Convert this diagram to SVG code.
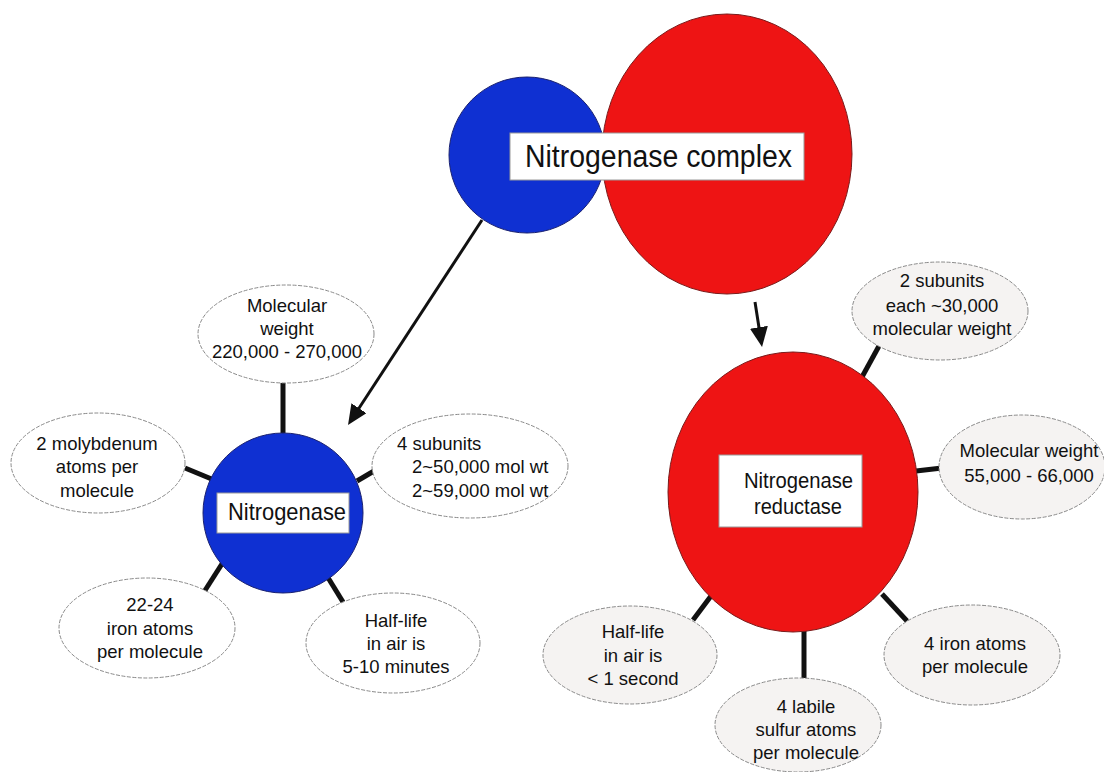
<svg xmlns="http://www.w3.org/2000/svg" width="1104" height="772" viewBox="0 0 1104 772">
<style>
.blue{fill:#0f30d2;stroke:#1a2170;stroke-width:1}
.red{fill:#ee1414;stroke:#7a1a1a;stroke-width:1}
.box{fill:#fff;stroke:#999;stroke-width:1}
.bub{fill:#fff;stroke:#8a8a8a;stroke-width:1;stroke-dasharray:4 1.5}
.bubg{fill:#f5f3f2;stroke:#8a8a8a;stroke-width:1;stroke-dasharray:4 1.5}
text{font-family:"Liberation Sans",Arial,sans-serif;fill:#111}
.t{font-size:18.5px;text-anchor:middle}
.ts{font-size:18.5px;text-anchor:start}
.conn{stroke:#111;stroke-width:5;stroke-linecap:butt}
.arr{stroke:#111;stroke-width:3;fill:none}
</style>
<defs>
<marker id="ah" viewBox="0 0 20 18" refX="12" refY="9" markerWidth="20" markerHeight="18" markerUnits="userSpaceOnUse" orient="auto">
<path d="M0,0 L20,9 L0,18 z" fill="#111"/>
</marker>
</defs>
<rect width="1104" height="772" fill="#fff"/>

<g id="complex">
<circle class="blue" cx="527" cy="155" r="78"/>
<ellipse class="red" cx="727" cy="154" rx="125" ry="140"/>
<rect class="box" x="510" y="133" width="294" height="47"/>
<text x="525" y="167" font-size="31" textLength="267" lengthAdjust="spacingAndGlyphs">Nitrogenase complex</text>
</g>

<g id="connectors">
<line class="arr" x1="482" y1="220" x2="352.4" y2="418.3" marker-end="url(#ah)"/>
<line class="arr" x1="755" y1="302" x2="760.8" y2="339.1" stroke-width="4" marker-end="url(#ah)"/>
<line class="conn" x1="283" y1="383" x2="283" y2="433"/>
<line class="conn" x1="185" y1="468" x2="214" y2="480"/>
<line class="conn" x1="357" y1="481" x2="374" y2="471"/>
<line class="conn" x1="227" y1="556" x2="204" y2="592"/>
<line class="conn" x1="327" y1="576" x2="343" y2="602"/>
<line class="conn" x1="879" y1="346" x2="862" y2="377"/>
<line class="conn" x1="916" y1="471" x2="942" y2="468"/>
<line class="conn" x1="714" y1="592" x2="693" y2="620"/>
<line class="conn" x1="804" y1="629" x2="804" y2="678"/>
<line class="conn" x1="882" y1="594" x2="907" y2="621"/>
</g>

<g id="nitrogenase">
<circle class="blue" cx="283" cy="513" r="80"/>
<rect class="box" x="217" y="493" width="132" height="40"/>
<text x="228" y="520" font-size="24" textLength="118" lengthAdjust="spacingAndGlyphs">Nitrogenase</text>
</g>

<g id="reductase">
<ellipse class="red" cx="793" cy="492" rx="125" ry="140"/>
<rect class="box" x="719" y="455" width="143" height="72"/>
<text x="744" y="488" font-size="22" textLength="109" lengthAdjust="spacingAndGlyphs">Nitrogenase</text>
<text x="754" y="514" font-size="22" textLength="88" lengthAdjust="spacingAndGlyphs">reductase</text>
</g>

<g id="n-molwt">
<ellipse class="bub" cx="286" cy="334" rx="88" ry="49"/>
<text class="t" x="287" y="312">Molecular</text>
<text class="t" x="287" y="335">weight</text>
<text class="t" x="287" y="358">220,000 - 270,000</text>
</g>

<g id="n-moly">
<ellipse class="bub" cx="98" cy="463" rx="87" ry="50"/>
<text class="t" x="97" y="450">2 molybdenum</text>
<text class="t" x="97" y="473">atoms per</text>
<text class="t" x="97" y="497">molecule</text>
</g>

<g id="n-subunits">
<ellipse class="bub" cx="470" cy="466" rx="98" ry="52"/>
<text class="ts" x="397" y="450">4 subunits</text>
<text class="ts" x="412" y="473">2~50,000 mol wt</text>
<text class="ts" x="412" y="497">2~59,000 mol wt</text>
</g>

<g id="n-iron">
<ellipse class="bub" cx="147" cy="628" rx="88" ry="50"/>
<text class="t" x="150" y="611">22-24</text>
<text class="t" x="150" y="635">iron atoms</text>
<text class="t" x="150" y="658">per molecule</text>
</g>

<g id="n-halflife">
<ellipse class="bub" cx="393" cy="643" rx="87" ry="50"/>
<text class="t" x="396" y="627">Half-life</text>
<text class="t" x="396" y="650">in air is</text>
<text class="t" x="396" y="673">5-10 minutes</text>
</g>

<g id="r-subunits">
<ellipse class="bubg" cx="940" cy="311" rx="88" ry="49"/>
<text class="t" x="942" y="287">2 subunits</text>
<text class="t" x="942" y="312">each ~30,000</text>
<text class="t" x="942" y="335">molecular weight</text>
</g>

<g id="r-molwt">
<ellipse class="bubg" cx="1022" cy="467" rx="83" ry="52"/>
<text class="t" x="1029" y="457">Molecular weight</text>
<text class="t" x="1029" y="482">55,000 - 66,000</text>
</g>

<g id="r-halflife">
<ellipse class="bubg" cx="630" cy="655" rx="87" ry="49"/>
<text class="t" x="633" y="638">Half-life</text>
<text class="t" x="633" y="662">in air is</text>
<text class="t" x="633" y="685">&lt; 1 second</text>
</g>

<g id="r-sulfur">
<ellipse class="bubg" cx="798" cy="725" rx="83" ry="47"/>
<text class="t" x="806" y="713">4 labile</text>
<text class="t" x="806" y="736">sulfur atoms</text>
<text class="t" x="806" y="759">per molecule</text>
</g>

<g id="r-iron">
<ellipse class="bubg" cx="972" cy="655" rx="88" ry="50"/>
<text class="t" x="975" y="650">4 iron atoms</text>
<text class="t" x="975" y="673">per molecule</text>
</g>
</svg>
